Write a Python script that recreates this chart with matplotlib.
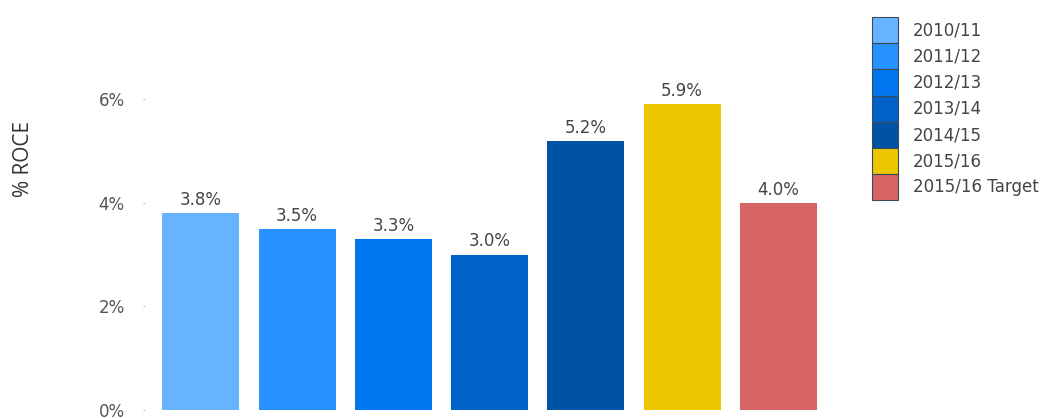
import matplotlib.pyplot as plt
from matplotlib.patches import Patch
from matplotlib.ticker import FuncFormatter

# ROCE by financial year
years = ['2010/11', '2011/12', '2012/13', '2013/14', '2014/15', '2015/16',
         '2015/16 Target']
roce = [3.8, 3.5, 3.3, 3.0, 5.2, 5.9, 4.0]
colors = ['#68b3ff', '#2592ff', '#0077ee', '#0062c6', '#0052a4', '#ecc700',
          '#d76565']
yticks = [0, 2, 4, 6]

plt.rcParams['font.family'] = ['DejaVu Sans']

fig = plt.figure(figsize=(10.62, 4.18), dpi=100)
ax = fig.add_axes([0.1365, 0.0191, 0.659, 0.933])

pos = range(len(roce))
bars = ax.bar(pos, roce, width=0.8, color=colors, edgecolor='none')

for bar, val in zip(bars, roce):
    ax.annotate('%.1f%%' % val,
                (bar.get_x() + bar.get_width() / 2, bar.get_height()),
                xytext=(0, 3), textcoords='offset points',
                ha='center', va='bottom', fontsize=12, color='#444444')

ax.set_xlim(-0.58, 6.69)
ax.set_ylim(0, 7.53)
ax.set_xticks([])
ax.set_yticks(yticks)
ax.yaxis.set_major_formatter(FuncFormatter(lambda v, _: '%d%%' % v))
ax.tick_params(axis='y', length=1.5, width=1, color='#c8c8c8',
               labelsize=12, labelcolor='#555555', pad=13)
for side in ax.spines.values():
    side.set_visible(False)

fig.text(0.0217, 0.62, '% ROCE', rotation=90, ha='center', va='center',
         fontsize=15, color='#333333', family=['Open Sans', 'DejaVu Sans'])

# contiguous colour swatches, one row per year
handles = [Patch(facecolor=c, edgecolor='#3a4a5a', linewidth=0.8)
           for c in colors]
leg = fig.legend(handles, years, loc='upper left',
                 bbox_to_anchor=(0.8211, 0.9593), frameon=False,
                 fontsize=12, labelspacing=0.0, handlelength=1.56,
                 handleheight=2.04, handletextpad=0.9, borderaxespad=0,
                 borderpad=0)
for t in leg.get_texts():
    t.set_color('#444444')

fig.savefig('out.png', dpi=100)
